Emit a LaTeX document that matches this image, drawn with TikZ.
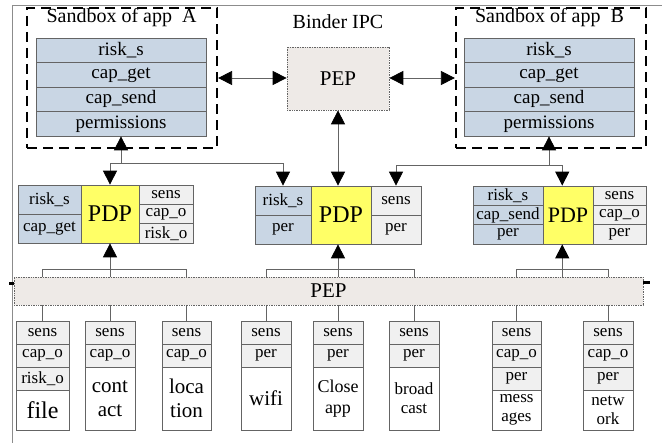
\documentclass[tikz,border=0pt]{standalone}
\usepackage{fontspec}
\setmainfont{Liberation Serif}
\usetikzlibrary{arrows.meta,calc}
\definecolor{cblue}{RGB}{201,214,228}
\definecolor{cyel}{RGB}{255,255,102}
\definecolor{cgray}{RGB}{240,240,240}
\definecolor{cpep}{RGB}{238,234,231}
\definecolor{cline}{RGB}{100,100,100}
\definecolor{cframe}{RGB}{140,140,140}
\newcommand{\bx}[7]{\node[#1, minimum width={(#5-#3)*1pt}, minimum height={(#6-#4)*1pt}] (#2) at ({(#3+#5)/2},{(#4+#6)/2}) {#7};}
\tikzset{
  cell/.style={draw=cline, line width=0.7pt, inner sep=0pt, align=center},
  bluec/.style={cell, fill=cblue, font=\fontsize{17}{19}\selectfont},
  tblc/.style={cell, fill=cblue, font=\fontsize{19}{21}\selectfont},
  grayc/.style={cell, fill=cgray, font=\fontsize{17}{19}\selectfont},
  yelc/.style={cell, fill=cyel, font=\fontsize{24}{26}\selectfont},
  whitec/.style={cell, fill=white, font=\fontsize{21}{24}\selectfont},
  whites/.style={cell, fill=white, font=\fontsize{17}{19}\selectfont},
  pepc/.style={draw=cline, densely dotted, line width=0.7pt, fill=cpep, inner sep=0pt, font=\fontsize{21}{23}\selectfont},
  sandbox/.style={draw=black, line width=2.2pt, dash pattern=on 10pt off 6pt, inner sep=0pt},
  titlec/.style={inner sep=0pt, font=\fontsize{20}{22}\selectfont},
  bigtip/.tip={Triangle[length=14pt, width=14pt, color=black]},
  arr/.style={draw=cline, line width=0.8pt, -bigtip},
  dbl/.style={draw=cline, line width=0.8pt, bigtip-bigtip},
  conn/.style={draw=cline, line width=0.8pt},
}
\begin{document}
\begin{tikzpicture}[x=1pt, y=-1pt]
\useasboundingbox (0,0) rectangle (662,443);
% outer frame
\draw[cframe, line width=0.9pt] (12,443) -- (12,5) -- (662,5);
% sandboxes
\bx{sandbox}{sbA}{27}{8}{217}{148}{}
\bx{sandbox}{sbB}{456}{8}{646}{148}{}
\node[titlec] (tA) at (121.5,18) {Sandbox of app~~A};
\node[titlec] (tB) at (549.5,18) {Sandbox of app~~B};
\node[titlec] (ipc) at (338,22) {Binder IPC};
% sandbox tables
\bx{tblc}{aR}{36}{38}{206}{62.5}{risk\_s}
\bx{tblc}{aG}{36}{62.5}{206}{87}{cap\_get}
\bx{tblc}{aS}{36}{87}{206}{111.5}{cap\_send}
\bx{tblc}{aP}{36}{111.5}{206}{136}{permissions}
\bx{tblc}{bR}{464}{38}{634}{62.5}{risk\_s}
\bx{tblc}{bG}{464}{62.5}{634}{87}{cap\_get}
\bx{tblc}{bS}{464}{87}{634}{111.5}{cap\_send}
\bx{tblc}{bP}{464}{111.5}{634}{136}{permissions}
% top PEP
\bx{pepc}{pepT}{287}{47}{389}{110}{PEP}
% left PDP
\bx{bluec}{lB1}{18}{185}{81}{214}{risk\_s}
\bx{bluec}{lB2}{18}{214}{81}{243}{cap\_get}
\bx{yelc}{lY}{81}{185}{139}{243}{PDP}
\bx{grayc}{lG1}{139}{185}{193}{204.33}{sens}
\bx{grayc}{lG2}{139}{204.33}{193}{223.67}{cap\_o}
\bx{grayc}{lG3}{139}{223.67}{193}{243}{risk\_o}
% middle PDP
\bx{bluec}{mB1}{255}{186}{311}{215}{risk\_s}
\bx{bluec}{mB2}{255}{215}{311}{244}{per}
\bx{yelc}{mY}{311}{186}{371}{244}{PDP}
\bx{grayc}{mG1}{371}{186}{421}{215}{sens}
\bx{grayc}{mG2}{371}{215}{421}{244}{per}
% right PDP
\bx{bluec}{rB1}{473}{186}{543}{205.33}{risk\_s}
\bx{bluec}{rB2}{473}{205.33}{543}{224.67}{cap\_send}
\bx{bluec}{rB3}{473}{224.67}{543}{244}{per}
\bx{yelc,font=\fontsize{22}{24}\selectfont}{rY}{543}{186}{593}{244}{PDP}
\bx{grayc}{rG1}{593}{186}{646}{205.33}{sens}
\bx{grayc}{rG2}{593}{205.33}{646}{224.67}{cap\_o}
\bx{grayc}{rG3}{593}{224.67}{646}{244}{per}
% bottom PEP bar
\bx{pepc}{pepB}{14}{277}{643}{305}{PEP}
\draw[black, line width=3pt] (9,284) -- (pepB.west |- 0,284);
\draw[black, line width=3pt] (pepB.east |- 0,283) -- (650,283);
% resource boxes
\bx{grayc}{f1}{16}{321}{69}{344}{sens}
\bx{grayc}{f2}{16}{344}{69}{367}{cap\_o}
\bx{grayc}{f3}{16}{367}{69}{390}{risk\_o}
\bx{whitec,font=\fontsize{24}{26}\selectfont}{f4}{16}{390}{69}{430}{file}
\bx{grayc}{c1}{85}{321}{135}{344}{sens}
\bx{grayc}{c2}{85}{344}{135}{367}{cap\_o}
\bx{whitec}{c3}{85}{367}{135}{430}{cont\\act}
\bx{grayc}{o1}{162}{321}{211}{344}{sens}
\bx{grayc}{o2}{162}{344}{211}{367}{cap\_o}
\bx{whitec}{o3}{162}{367}{211}{430}{loca\\tion}
\bx{grayc}{w1}{241}{321}{291}{344}{sens}
\bx{grayc}{w2}{241}{344}{291}{367}{per}
\bx{whitec}{w3}{241}{367}{291}{430}{wifi}
\bx{grayc}{k1}{313}{321}{363}{344}{sens}
\bx{grayc}{k2}{313}{344}{363}{367}{per}
\bx{whitec,font=\fontsize{18}{21}\selectfont}{k3}{313}{367}{363}{430}{Close\\app}
\bx{grayc}{d1}{389}{321}{439}{344}{sens}
\bx{grayc}{d2}{389}{344}{439}{367}{per}
\bx{whites}{d3}{389}{367}{439}{430}{broad\\cast}
\bx{grayc}{g1}{492}{321}{541}{344}{sens}
\bx{grayc}{g2}{492}{344}{541}{367}{cap\_o}
\bx{grayc}{g3}{492}{367}{541}{390}{per}
\bx{whites}{g4}{492}{390}{541}{430}{mess\\ages}
\bx{grayc}{n1}{583}{321}{633}{344}{sens}
\bx{grayc}{n2}{583}{344}{633}{367}{cap\_o}
\bx{grayc}{n3}{583}{367}{633}{390}{per}
\bx{whites}{n4}{583}{390}{633}{430}{netw\\ork}
% coordinates
\coordinate (busL) at ($(aP.south)+(0,27)$);
\coordinate (busR) at ($(bP.south)+(0,29)$);
\coordinate (rJ) at ($(g1.north)!0.5!(n1.north)$);
\coordinate (yb) at (0,269);
% top connectors
\draw[dbl] (sbA.east) -- (sbA.east -| pepT.west);
\draw[dbl] (pepT.east |- sbB.west) -- (sbB.west);
\draw[dbl] (pepT.south) -- (pepT.south |- mY.north);
\draw[arr] (busL) -- (aP.south);
\draw[conn] (busL -| lY.north) -- (busL -| mB1.north);
\draw[arr] (busL -| lY.north) -- (lY.north);
\draw[arr] (busL -| mB1.north) -- (mB1.north);
\draw[arr] (busR) -- (bP.south);
\draw[conn] (busR -| mG1.north) -- (busR -| rJ);
\draw[arr] (busR -| mG1.north) -- (mG1.north);
\draw[arr] (busR -| rJ) -- (rJ |- rY.north);
% connectors above PEP bar
\draw[conn] (f1.north |- pepB.north) -- (f1.north |- yb) -- (o1.north |- yb) -- (o1.north |- pepB.north);
\draw[arr] (c1.north |- pepB.north) -- (c1.north |- lY.south);
\draw[conn] (w1.north |- pepB.north) -- (w1.north |- yb) -- (d1.north |- yb) -- (d1.north |- pepB.north);
\draw[arr] (k1.north |- pepB.north) -- (k1.north |- mY.south);
\draw[conn] (g1.north |- pepB.north) -- (g1.north |- yb) -- (n1.north |- yb) -- (n1.north |- pepB.north);
\draw[arr] (rJ |- pepB.north) -- (rJ |- rY.south);
% connectors below PEP bar
\foreach \b in {f1,c1,o1,w1,k1,d1,g1,n1}{
  \draw[conn] (\b.north |- pepB.south) -- (\b.north);
}
\end{tikzpicture}
\end{document}
